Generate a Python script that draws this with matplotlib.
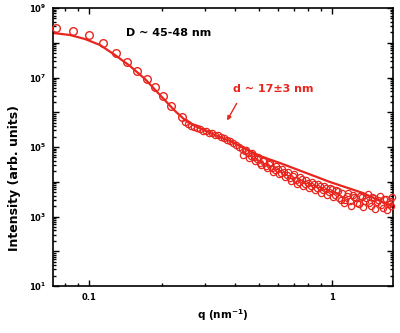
import matplotlib
matplotlib.use('Agg')
import matplotlib.pyplot as plt
from matplotlib.ticker import LogLocator, FixedLocator, FixedFormatter, NullFormatter

plt.rcParams['font.family'] = ['DejaVu Sans']
plt.rcParams['font.weight'] = 'bold'
plt.rcParams['mathtext.fontset'] = 'dejavusans'
plt.rcParams['mathtext.default'] = 'bf'

RED = '#e8261e'

# measured SAXS points (q in nm^-1, intensity in arb. units)
# low-q part, sparse points
q_low = [0.0731, 0.0859, 0.100, 0.1142, 0.1292, 0.1432, 0.1577, 0.1733,
         0.1870, 0.2017, 0.2175, 0.2413]
I_low = [2.65e8, 2.18e8, 1.67e8, 9.8e7, 5.07e7, 2.79e7, 1.54e7, 9.06e6,
         5.33e6, 2.94e6, 1.51e6, 7.3e5]

# high-q part, dense points
q_high = [0.2484, 0.2555, 0.2629, 0.2704, 0.2782, 0.2862, 0.2944, 0.3030,
          0.3117, 0.3207, 0.3299, 0.3395, 0.3492, 0.3594, 0.3697, 0.3804,
          0.3914, 0.4026, 0.4143, 0.4262, 0.4385, 0.4511, 0.4642, 0.4775,
          0.4913, 0.5055, 0.5200, 0.5350, 0.5504, 0.5663, 0.5826, 0.5995,
          0.6167, 0.6345, 0.6528, 0.6717, 0.6910, 0.7110, 0.7314, 0.7525,
          0.7743, 0.7966, 0.8196, 0.8431, 0.8675, 0.8925, 0.9183, 0.9447,
          0.9720, 1.000, 1.029, 1.059, 1.089, 1.121, 1.153, 1.186, 1.220,
          1.255, 1.292, 1.329, 1.367, 1.406, 1.447, 1.489, 1.532, 1.576,
          1.622, 1.668, 1.717, 1.766,
          0.4302, 0.4554, 0.4821, 0.5103, 0.5401, 0.5717, 0.6052, 0.6406,
          0.6780, 0.7177, 0.7597, 0.8042, 0.8511, 0.9010, 0.9537, 1.009,
          1.069, 1.131, 1.197, 1.267, 1.341, 1.420, 1.503, 1.591, 1.684,
          1.749,
          0.4426, 0.4686, 0.4960, 0.5250, 0.5557, 0.5882, 0.6226, 0.6591,
          0.6976, 0.7384, 0.7816, 0.8273, 0.8757, 0.9270, 0.9812, 1.039,
          1.099, 1.164, 1.232, 1.304, 1.380, 1.461, 1.546, 1.637, 1.733]
I_high = [5.24e5, 4.59e5, 4.02e5, 3.77e5, 3.52e5, 3.30e5, 2.89e5, 2.89e5,
          2.53e5, 2.53e5, 2.21e5, 2.21e5, 1.94e5, 1.81e5, 1.59e5, 1.49e5,
          1.30e5, 1.14e5, 1.00e5, 8.76e4, 7.67e4, 6.71e4, 5.51e4, 5.15e4,
          4.52e4, 3.46e4, 3.95e4, 2.84e4, 3.24e4, 2.49e4, 2.18e4, 2.33e4,
          1.79e4, 1.91e4, 1.56e4, 1.28e4, 1.46e4, 1.12e4, 9.84e3, 1.20e4,
          8.61e3, 9.21e3, 7.55e3, 8.61e3, 6.61e3, 7.55e3, 5.79e3, 6.61e3,
          5.07e3, 6.18e3, 4.16e3, 5.42e3, 3.05e3, 2.45e3, 3.89e3, 2.79e3,
          4.16e3, 3.41e3, 2.29e3, 3.64e3, 2.79e3, 4.44e3, 2.01e3, 3.41e3,
          2.61e3, 3.89e3, 1.76e3, 3.19e3, 2.29e3, 3.64e3,
          5.89e4, 4.82e4, 3.95e4, 3.03e4, 2.49e4, 1.91e4, 1.67e4, 1.37e4,
          1.05e4, 8.61e3, 7.55e3, 6.61e3, 5.79e3, 4.75e3, 4.16e3, 3.64e3,
          3.41e3, 2.98e3, 2.01e3, 2.45e3, 1.88e3, 2.45e3, 1.64e3, 2.14e3,
          1.54e3, 2.01e3,
          8.20e4, 6.71e4, 5.15e4, 4.23e4, 3.46e4, 2.84e4, 2.33e4, 1.91e4,
          1.67e4, 1.37e4, 1.12e4, 9.84e3, 8.61e3, 7.55e3, 6.61e3, 5.79e3,
          4.75e3, 4.75e3, 3.64e3, 3.89e3, 3.41e3, 3.64e3, 2.98e3, 3.19e3,
          2.79e3]

# model fit curve
q_fit = [0.0711, 0.0835, 0.0963, 0.1110, 0.1279, 0.1475, 0.1700, 0.1960,
         0.2259, 0.2484, 0.2730, 0.3147, 0.3804, 0.5055, 0.6109, 0.9812,
         1.341, 1.782]
I_fit = [1.91e8, 1.67e8, 1.28e8, 8.61e7, 4.44e7, 2.14e7, 9.06e6, 3.13e6,
         1.09e6, 5.98e5, 4.02e5, 2.53e5, 1.49e5, 5.51e4, 3.46e4, 9.84e3,
         4.75e3, 1.88e3]

y_major = [1e1, 1e2, 1e3, 1e4, 1e5, 1e6, 1e7, 1e8, 1e9]
y_labels = ['$10^{1}$', '', '$10^{3}$', '', '$10^{5}$', '', '$10^{7}$', '', '$10^{9}$']
x_major = [0.1, 1.0]
x_labels = ['0.1', '1']

fig = plt.figure(figsize=(4.0, 3.33), dpi=100)
ax = fig.add_axes([0.1325, 0.141, 0.85, 0.835])

ax.plot(q_fit, I_fit, color=RED, lw=1.6, zorder=2)
ax.plot(q_low, I_low, linestyle='none', marker='o', markersize=5.5,
        markerfacecolor='none', markeredgecolor=RED, markeredgewidth=1.0,
        zorder=3, clip_on=False)
ax.plot(q_high, I_high, linestyle='none', marker='o', markersize=4.5,
        markerfacecolor='none', markeredgecolor=RED, markeredgewidth=0.9,
        zorder=3, clip_on=False)

ax.set_xscale('log')
ax.set_yscale('log')
ax.set_xlim(0.0711, 1.782)
ax.set_ylim(1e1, 1e9)

ax.xaxis.set_major_locator(FixedLocator(x_major))
ax.xaxis.set_major_formatter(FixedFormatter(x_labels))
ax.xaxis.set_minor_locator(LogLocator(base=10, subs=range(2, 10), numticks=20))
ax.xaxis.set_minor_formatter(NullFormatter())
ax.yaxis.set_major_locator(FixedLocator(y_major))
ax.yaxis.set_major_formatter(FixedFormatter(y_labels))
ax.yaxis.set_minor_locator(LogLocator(base=10, subs=range(2, 10), numticks=20))
ax.yaxis.set_minor_formatter(NullFormatter())

ax.tick_params(which='both', direction='in', top=True, right=True, width=1.0)
ax.tick_params(which='major', length=4, labelsize=6, pad=5)
ax.tick_params(which='minor', length=2)
for sp in ax.spines.values():
    sp.set_linewidth(1.2)

ax.set_xlabel('q (nm$^{-1}$)', fontsize=7.5, fontweight='bold', labelpad=4)
ax.set_ylabel('Intensity (arb. units)', fontsize=9, fontweight='bold')
ax.yaxis.set_label_coords(-0.094, 0.39)

ax.text(0.2134, 1.9e8, 'D ~ 45-48 nm', fontsize=8, fontweight='bold', color='black',
        va='center', ha='center')
ax.text(0.572, 4.67e6, 'd ~ 17\u00b13 nm', fontsize=8, fontweight='bold', color=RED,
        va='center', ha='center')
ax.annotate('', xy=(0.37, 5.8e5), xytext=(0.405, 1.8e6),
            arrowprops=dict(arrowstyle='-|>', color=RED, lw=1.0,
                            mutation_scale=6, shrinkA=0, shrinkB=0))

fig.savefig('out.png', dpi=100)
